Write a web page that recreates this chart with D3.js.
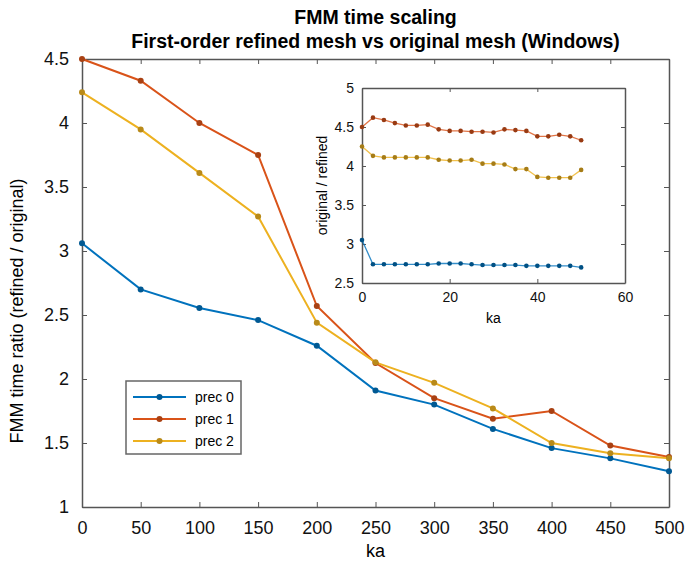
<!DOCTYPE html>
<html><head><meta charset="utf-8">
<script src="https://cdn.jsdelivr.net/npm/d3@7"></script>
<style>body{margin:0;background:#fff}svg{display:block;font-family:"Liberation Sans",Arial,sans-serif}</style>
</head><body><svg id="c" width="686" height="565"></svg>
<script>
// ---- data ----
const ka = [0,50,100,150,200,250,300,350,400,450,500];
const prec0 = [3.06,2.70,2.555,2.46,2.26,1.91,1.80,1.61,1.46,1.38,1.28];
const prec1 = [4.50,4.33,4.00,3.75,2.57,2.125,1.85,1.69,1.75,1.48,1.39];
const prec2 = [4.24,3.95,3.61,3.27,2.44,2.13,1.97,1.77,1.50,1.42,1.38];
const seriesNames = ["prec 0","prec 1","prec 2"];
const xTicks = [0,50,100,150,200,250,300,350,400,450,500];
const yTicks = [1,1.5,2,2.5,3,3.5,4,4.5];

const insetKa = [0,2.5,5,7.5,10,12.5,15,17.5,20,22.5,25,27.5,30,32.5,35,37.5,40,42.5,45,47.5,50];
const inset0 = [3.05,2.74,2.74,2.74,2.74,2.74,2.74,2.75,2.75,2.75,2.74,2.73,2.73,2.73,2.73,2.72,2.72,2.72,2.72,2.72,2.70];
const inset1 = [4.50,4.62,4.59,4.55,4.52,4.52,4.53,4.47,4.45,4.45,4.44,4.44,4.43,4.47,4.46,4.45,4.38,4.38,4.40,4.38,4.33];
const inset2 = [4.25,4.13,4.11,4.11,4.11,4.11,4.11,4.08,4.07,4.07,4.08,4.03,4.03,4.02,3.96,3.96,3.86,3.85,3.85,3.85,3.95];
const insetXTicks = [0,20,40,60];
const insetYTicks = [2.5,3,3.5,4,4.5,5];

const colors = ["#0072BD","#D95319","#EDB120"];
const axisColor = "#555";

const svg = d3.select("#c");

// ---- main axes ----
const L=82, R=669, T=59, B=507;
const x = d3.scaleLinear().domain([0,500]).range([L,R]);
const y = d3.scaleLinear().domain([1,4.5]).range([B,T]);

const gx = svg.append("g").attr("transform",`translate(0,${B})`)
  .call(d3.axisBottom(x).tickValues(xTicks).tickSizeInner(-5).tickSizeOuter(0).tickPadding(14));
const gy = svg.append("g").attr("transform",`translate(${L},0)`)
  .call(d3.axisLeft(y).tickValues(yTicks).tickSizeInner(-5).tickSizeOuter(0).tickPadding(13).tickFormat(d3.format("")));
const gxt = svg.append("g").attr("transform",`translate(0,${T})`)
  .call(d3.axisTop(x).tickValues(xTicks).tickSizeInner(-5).tickSizeOuter(0).tickFormat(""));
const gyr = svg.append("g").attr("transform",`translate(${R},0)`)
  .call(d3.axisRight(y).tickValues(yTicks).tickSizeInner(-5).tickSizeOuter(0).tickFormat(""));
[gx,gy,gxt,gyr].forEach(g=>{
  g.select(".domain").attr("stroke",axisColor).attr("stroke-width",1.5);
  g.selectAll(".tick line").attr("stroke",axisColor);
  g.selectAll(".tick text").attr("font-size",18).attr("fill","#111").attr("font-family","Liberation Sans, Arial, sans-serif");
});

const mainSeries = [prec0,prec1,prec2];
const line = d3.line().x((d,i)=>x(ka[i])).y(d=>y(d));
mainSeries.forEach((s,k)=>{
  svg.append("path").datum(s).attr("fill","none").attr("stroke",colors[k]).attr("stroke-width",2).attr("d",line);
});
mainSeries.forEach((s,k)=>{
  svg.append("g").selectAll("circle").data(s).join("circle")
    .attr("cx",(d,i)=>x(ka[i])).attr("cy",d=>y(d)).attr("r",3)
    .attr("fill",d3.color(colors[k]).darker(0.7));
});

// titles & labels
svg.append("text").attr("x",(L+R)/2).attr("y",24).attr("text-anchor","middle")
  .attr("font-weight","bold").attr("font-size",19.5).text("FMM time scaling");
svg.append("text").attr("x",(L+R)/2).attr("y",48).attr("text-anchor","middle")
  .attr("font-weight","bold").attr("font-size",19.5).text("First-order refined mesh vs original mesh (Windows)");
svg.append("text").attr("x",(L+R)/2).attr("y",557).attr("text-anchor","middle")
  .attr("font-size",18).text("ka");
svg.append("text").attr("transform",`translate(23,311) rotate(-90)`).attr("text-anchor","middle")
  .attr("font-size",18).text("FMM time ratio (refined / original)");

// legend
const lg = svg.append("g");
lg.append("rect").attr("x",126).attr("y",381).attr("width",115).attr("height",73)
  .attr("fill","#fff").attr("stroke","#666").attr("stroke-width",1.5);
seriesNames.forEach((n,k)=>{
  const yy = 397 + k*22;
  lg.append("line").attr("x1",133).attr("x2",186).attr("y1",yy).attr("y2",yy).attr("stroke",colors[k]).attr("stroke-width",2);
  lg.append("circle").attr("cx",159.5).attr("cy",yy).attr("r",3).attr("fill",d3.color(colors[k]).darker(0.7));
  lg.append("text").attr("x",195).attr("y",yy+5).attr("font-size",14).text(n);
});

// ---- inset ----
const iL=362, iR=625, iT=88, iB=283;
const ix = d3.scaleLinear().domain([0,60]).range([iL,iR]);
const iy = d3.scaleLinear().domain([2.5,5]).range([iB,iT]);
svg.append("rect").attr("x",iL).attr("y",iT).attr("width",iR-iL).attr("height",iB-iT).attr("fill","#fff");
const ig = svg.append("g");
const igx = ig.append("g").attr("transform",`translate(0,${iB})`)
  .call(d3.axisBottom(ix).tickValues(insetXTicks).tickSizeInner(-4).tickSizeOuter(0).tickPadding(9));
const igy = ig.append("g").attr("transform",`translate(${iL},0)`)
  .call(d3.axisLeft(iy).tickValues(insetYTicks).tickSizeInner(-4).tickSizeOuter(0).tickPadding(8).tickFormat(d3.format("")));
const igxt = ig.append("g").attr("transform",`translate(0,${iT})`)
  .call(d3.axisTop(ix).tickValues(insetXTicks).tickSizeInner(-4).tickSizeOuter(0).tickFormat(""));
const igyr = ig.append("g").attr("transform",`translate(${iR},0)`)
  .call(d3.axisRight(iy).tickValues(insetYTicks).tickSizeInner(-4).tickSizeOuter(0).tickFormat(""));
[igx,igy,igxt,igyr].forEach(g=>{
  g.select(".domain").attr("stroke",axisColor).attr("stroke-width",1.5);
  g.selectAll(".tick line").attr("stroke",axisColor);
  g.selectAll(".tick text").attr("font-size",14).attr("fill","#111").attr("font-family","Liberation Sans, Arial, sans-serif");
});
const insetSeries = [inset0,inset1,inset2];
const iline = d3.line().x((d,i)=>ix(insetKa[i])).y(d=>iy(d));
insetSeries.forEach((s,k)=>{
  ig.append("path").datum(s).attr("fill","none").attr("stroke",colors[k]).attr("stroke-width",1.3).attr("opacity",0.8).attr("d",iline);
  ig.append("g").selectAll("circle").data(s).join("circle")
    .attr("cx",(d,i)=>ix(insetKa[i])).attr("cy",d=>iy(d)).attr("r",2.3)
    .attr("fill",d3.color(colors[k]).darker(1));
});
ig.append("text").attr("x",(iL+iR)/2).attr("y",323).attr("text-anchor","middle").attr("font-size",14).text("ka");
ig.append("text").attr("transform",`translate(327,${(iT+iB)/2}) rotate(-90)`).attr("text-anchor","middle")
  .attr("font-size",14).text("original / refined");
</script></body></html>
